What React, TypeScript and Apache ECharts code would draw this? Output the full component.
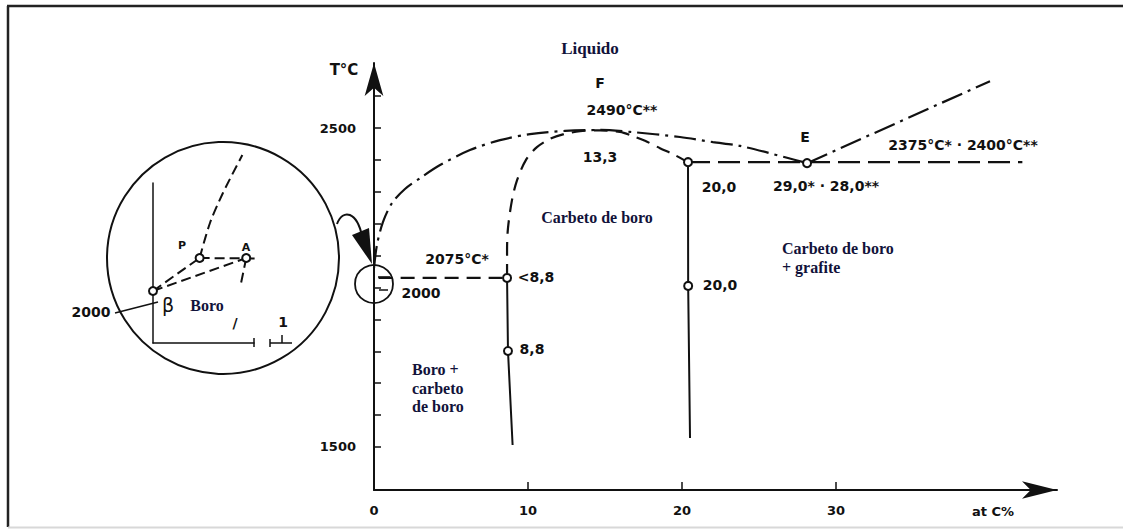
import React, { useEffect, useRef } from "react";
import * as echarts from "echarts";

// ---------- main diagram data (at% C, °C) ----------
const liquidusX = [0, 0.19, 0.58, 1.17, 2.01, 2.99, 4.29, 6.23, 8.18, 10.13, 12.4, 14.68, 16.62, 19.87, 22.01, 23.77, 26.88, 28.12];
const liquidusT = [2061, 2133, 2205, 2265, 2309, 2343, 2384, 2431, 2462, 2481, 2491, 2494, 2488, 2472, 2456, 2444, 2406, 2390];
const graphiteX = [28.12, 40.0];
const graphiteT = [2390, 2647];
const solidusX = [8.64, 8.64, 8.7, 8.96, 9.29, 9.87, 10.58, 11.43, 12.27, 13.38, 14.68, 15.97, 16.75, 17.6, 18.57, 19.55, 20.39];
const solidusT = [2030, 2118, 2186, 2274, 2337, 2400, 2440, 2466, 2480, 2490, 2493, 2488, 2476, 2460, 2437, 2415, 2393];
const eutecticX = [0.3, 8.64];
const eutecticT = [2030, 2030];
const peritecticX = [20.39, 42.1];
const peritecticT = [2393, 2393];
const line88X = [8.64, 8.7, 9.0];
const line88T = [2030, 1801, 1506];
const line20X = [20.39, 20.4, 20.52];
const line20T = [2393, 2005, 1528];
const pointsX = [8.64, 8.7, 20.39, 20.4, 28.12];
const pointsT = [2030, 1801, 2393, 2005, 2390];

const xTicks = [10, 20, 30];
const xLabels = [0, 10, 20, 30];
const yTicks = [1500, 1600, 1700, 1800, 1900, 2000, 2100, 2200, 2300, 2400, 2500, 2600];
const yLabels = [1500, 2500];

// ---------- inset (magnified boron corner) ----------
const insetBetaPX = [0, 0.36];
const insetBetaPT = [2000, 2033];
const insetBetaAX = [0, 0.72];
const insetBetaAT = [2000, 2033];
const insetPUpX = [0.36, 0.44, 0.54, 0.69];
const insetPUpT = [2033, 2068, 2098, 2136];
const insetPAX = [0.36, 1.22];
const insetPAT = [2033, 2032];
const insetADownX = [0.72, 0.68];
const insetADownT = [2033, 2008];
const insetPointsX = [0, 0.36, 0.72];
const insetPointsT = [2000, 2033, 2033];

const zip = (xs: number[], ys: number[]) => xs.map((x, i) => [x, ys[i]]);

const INK = "#111";
const NAVY = "#12123a";
const sansBold = { fontFamily: "DejaVu Sans", fontWeight: "bold" as const, fontSize: 14, fill: INK };
const serifBold = { fontFamily: "Liberation Serif", fontWeight: "bold" as const, fontSize: 16, fill: NAVY };

const DASHDOT = [22, 6, 3, 6];
const DASH = [14, 8];
const IDASH = [10, 5];

function txt(text: string, x: number, y: number, style: any, align = "center") {
  return { type: "text", x, y, silent: true, style: { text, align, verticalAlign: "middle", ...style } };
}

export default function App() {
  const ref = useRef<HTMLDivElement>(null);
  useEffect(() => {
    if (!ref.current) return;
    const chart = echarts.init(ref.current, undefined, { renderer: "svg" });
    const lineS = (name: string, data: number[][], type: any, width: number, idx = 0, smooth: any = false) => ({
      name,
      type: "line",
      xAxisIndex: idx,
      yAxisIndex: idx,
      data,
      showSymbol: false,
      symbol: "none",
      smooth,
      clip: false,
      silent: true,
      lineStyle: { color: INK, width, type },
    });
    const pts = (name: string, data: number[][], idx: number) => ({
      name, type: "scatter", xAxisIndex: idx, yAxisIndex: idx,
      data, symbol: "circle", symbolSize: 8, silent: true, z: 5, clip: false,
      itemStyle: { color: "#fff", borderColor: INK, borderWidth: 2, opacity: 1 },
    });
    const option: any = {
      animation: false,
      backgroundColor: "#fff",
      grid: [
        { left: 374, width: 683, top: 63, height: 427 },
        { left: 153, width: 101, top: 183, height: 160 },
      ],
      xAxis: [
        {
          type: "value", gridIndex: 0, min: 0, max: 44.35,
          axisLine: { onZero: false, lineStyle: { color: INK, width: 2 }, symbol: ["none", "arrow"], symbolSize: [13, 35] },
          axisTick: { show: true, inside: true, length: 8, customValues: xTicks, lineStyle: { color: INK, width: 1.5 } },
          axisLabel: { customValues: xLabels, margin: 14, color: INK, fontFamily: "DejaVu Sans", fontWeight: "bold", fontSize: 13, formatter: (v: number) => String(v) },
          splitLine: { show: false },
        },
        {
          type: "value", gridIndex: 1, min: 0, max: 0.78,
          axisLine: { onZero: false, lineStyle: { color: INK, width: 1.5 } },
          axisTick: { show: false }, axisLabel: { show: false }, splitLine: { show: false },
        },
      ],
      yAxis: [
        {
          type: "value", gridIndex: 0, min: 1365, max: 2704,
          axisLine: { onZero: false, lineStyle: { color: INK, width: 2 }, symbol: ["none", "arrow"], symbolSize: [14, 33] },
          axisTick: { show: true, inside: true, length: 7, customValues: yTicks, lineStyle: { color: INK, width: 1.5 } },
          axisLabel: { customValues: yLabels, margin: 18, color: INK, fontFamily: "DejaVu Sans", fontWeight: "bold", fontSize: 13, formatter: (v: number) => String(v) },
          splitLine: { show: false },
        },
        {
          type: "value", gridIndex: 1, min: 1948, max: 2108,
          axisLine: { onZero: false, lineStyle: { color: INK, width: 1.5 } },
          axisTick: { show: false }, axisLabel: { show: false }, splitLine: { show: false },
        },
      ],
      series: [
        lineS("Liquidus", zip(liquidusX, liquidusT), DASHDOT, 2.2, 0, 0.3),
        lineS("Liquidus grafite", zip(graphiteX, graphiteT), DASHDOT, 2.2),
        lineS("Carbeto de boro (limite)", zip(solidusX, solidusT), DASH, 2.2, 0, 0.3),
        lineS("Eutético", zip(eutecticX, eutecticT), DASH, 2.2),
        lineS("Peritético", zip(peritecticX, peritecticT), [22, 8], 2.2),
        lineS("8,8", zip(line88X, line88T), "solid", 2),
        lineS("20,0", zip(line20X, line20T), "solid", 2),
        pts("Pontos", zip(pointsX, pointsT), 0),
        lineS("β-P", zip(insetBetaPX, insetBetaPT), IDASH, 2, 1),
        lineS("β-A", zip(insetBetaAX, insetBetaAT), IDASH, 2, 1),
        lineS("P-up", zip(insetPUpX, insetPUpT), IDASH, 2, 1, 0.3),
        lineS("P-A", zip(insetPAX, insetPAT), IDASH, 2, 1),
        lineS("A-down", zip(insetADownX, insetADownT), IDASH, 2, 1),
        pts("Pontos inset", zip(insetPointsX, insetPointsT), 1),
      ],
      graphic: [
        // frame
        { type: "line", silent: true, shape: { x1: 7, y1: 6, x2: 1123, y2: 6 }, style: { stroke: "#222", lineWidth: 2.5 } },
        { type: "line", silent: true, shape: { x1: 8, y1: 6, x2: 8, y2: 527 }, style: { stroke: "#222", lineWidth: 2.5 } },
        { type: "line", silent: true, shape: { x1: 8, y1: 527.5, x2: 1123, y2: 527.5 }, style: { stroke: "#d8d8d8", lineWidth: 2 } },
        // magnifier circles
        { type: "circle", silent: true, shape: { cx: 223, cy: 258, r: 116 }, style: { fill: "none", stroke: INK, lineWidth: 2 } },
        { type: "circle", silent: true, shape: { cx: 374, cy: 284, r: 19 }, style: { fill: "none", stroke: INK, lineWidth: 1.8 } },
        { type: "line", silent: true, shape: { x1: 378, y1: 277, x2: 390, y2: 277 }, style: { stroke: INK, lineWidth: 1.5 } },
        { type: "line", silent: true, shape: { x1: 379, y1: 290, x2: 388, y2: 290 }, style: { stroke: INK, lineWidth: 1.5 } },
        { type: "bezierCurve", silent: true, shape: { x1: 337, y1: 224, cpx1: 343, cpy1: 208, cpx2: 357, cpy2: 212, x2: 362, y2: 236 }, style: { fill: "none", stroke: INK, lineWidth: 2 } },
        { type: "polygon", silent: true, shape: { points: [[352, 235], [369, 228], [372, 264]] }, style: { fill: INK } },
        // inset axis break
        { type: "line", silent: true, shape: { x1: 254, y1: 338, x2: 254, y2: 347 }, style: { stroke: INK, lineWidth: 1.5 } },
        { type: "line", silent: true, shape: { x1: 270, y1: 343, x2: 292, y2: 343 }, style: { stroke: INK, lineWidth: 1.5 } },
        { type: "line", silent: true, shape: { x1: 270, y1: 339, x2: 270, y2: 347 }, style: { stroke: INK, lineWidth: 1.5 } },
        { type: "line", silent: true, shape: { x1: 282, y1: 335, x2: 282, y2: 343 }, style: { stroke: INK, lineWidth: 1.5 } },
        { type: "line", silent: true, shape: { x1: 115, y1: 313, x2: 158, y2: 302 }, style: { stroke: INK, lineWidth: 1.5 } },
        // texts
        txt("T°C", 344, 70, { ...sansBold, fontSize: 15 }),
        txt("at C%", 993, 511, { ...sansBold, fontSize: 13 }),
        txt("Liquido", 590, 48, { ...serifBold, fontSize: 17 }),
        txt("F", 600, 83, sansBold),
        txt("2490°C**", 622, 110, sansBold),
        txt("13,3", 600, 157, sansBold),
        txt("20,0", 719, 187, sansBold),
        txt("E", 805, 137, sansBold),
        txt("2375°C* · 2400°C**", 963, 145, sansBold),
        txt("29,0* · 28,0**", 826, 186, sansBold),
        txt("Carbeto de boro", 597, 217, serifBold),
        txt("Carbeto de boro", 782, 248, serifBold, "left"),
        txt("+ grafite", 782, 267, serifBold, "left"),
        txt("2075°C*", 457, 259, sansBold),
        txt("2000", 421, 293, sansBold),
        txt("<8,8", 536, 277, sansBold),
        txt("8,8", 532, 349, sansBold),
        txt("20,0", 720, 285, sansBold),
        txt("Boro +", 412, 369, serifBold, "left"),
        txt("carbeto", 412, 388, serifBold, "left"),
        txt("de boro", 412, 406, serifBold, "left"),
        txt("P", 182, 245, { ...sansBold, fontSize: 11 }),
        txt("A", 246, 247, { ...sansBold, fontSize: 11 }),
        txt("β", 168, 305, { fill: INK, fontWeight: "normal", fontSize: 19, fontFamily: "DejaVu Sans" }),
        txt("Boro", 207, 305, serifBold),
        txt("/", 235, 323, { ...sansBold, fontSize: 14 }),
        txt("1", 283, 322, sansBold),
        txt("2000", 91, 312, sansBold),
      ],
    };
    chart.setOption(option);
    return () => chart.dispose();
  }, []);
  return <div ref={ref} style={{ position: "fixed", left: 0, top: 0, width: 1123, height: 529 }} />;
}
